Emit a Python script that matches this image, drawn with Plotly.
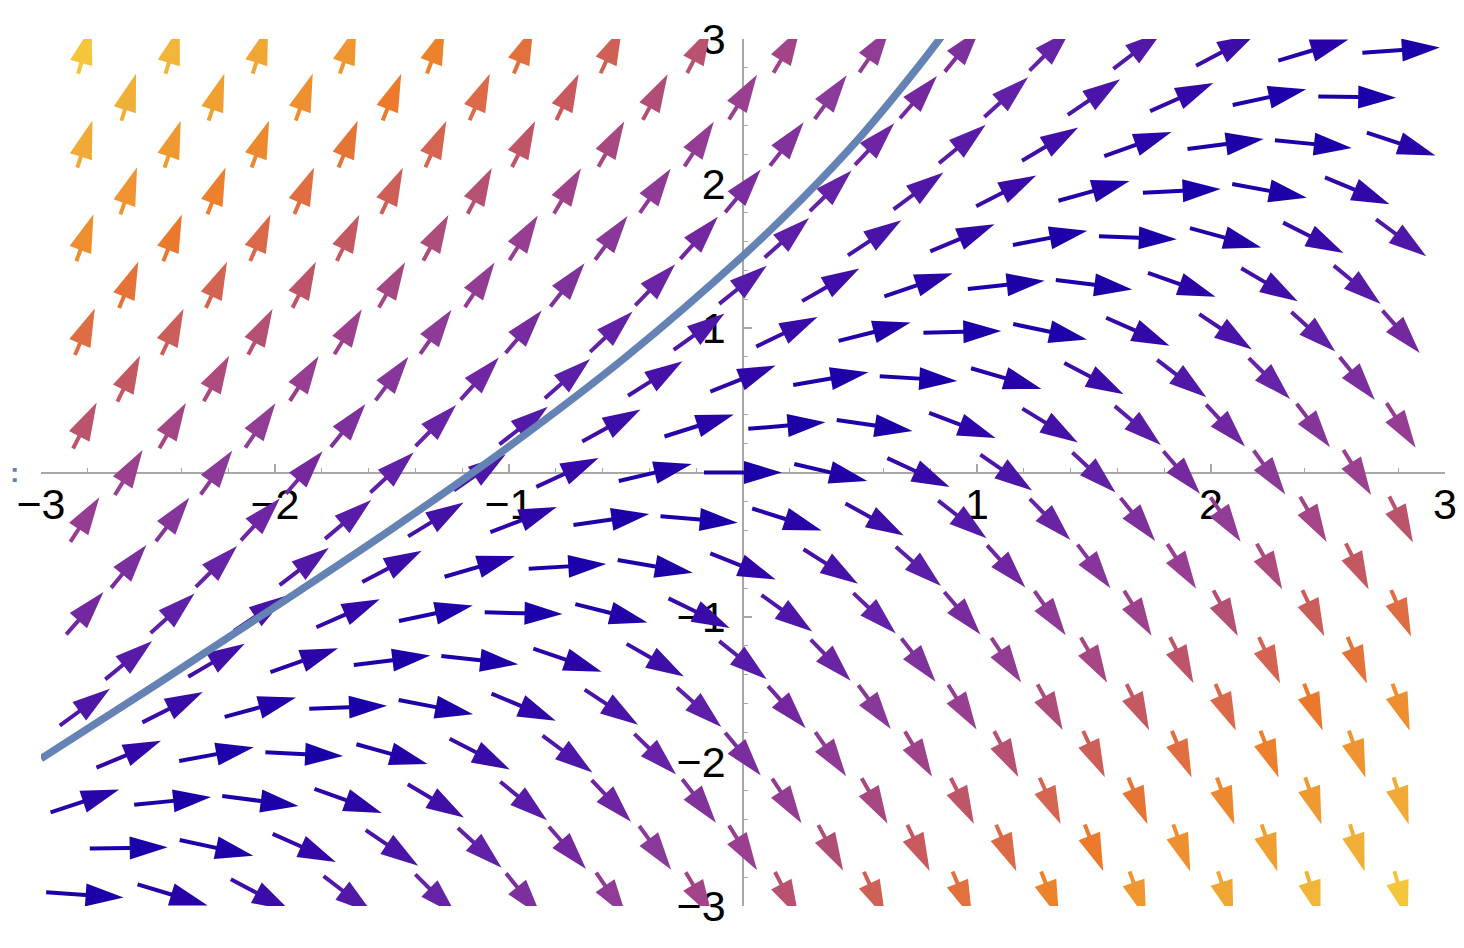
import numpy as np
import plotly.graph_objects as go

# slope field dy/dx = y - x, on the staggered grid used by the original plot
row_y = [-2.923, -2.598, -2.273, -1.949, -1.624, -1.299, -0.974, -0.650, -0.325, 0.0,
         0.325, 0.650, 0.974, 1.299, 1.624, 1.949, 2.273, 2.598, 2.923]
even_x = [-2.625, -2.25, -1.875, -1.5, -1.125, -0.75, -0.375, 0.0,
          0.375, 0.75, 1.125, 1.5, 1.875, 2.25, 2.625]
odd_x = [-2.8125, -2.4375, -2.0625, -1.6875, -1.3125, -0.9375, -0.5625, -0.1875,
         0.1875, 0.5625, 0.9375, 1.3125, 1.6875, 2.0625, 2.4375, 2.8125]

# solution curve
curve_x = [-3.0, -2.5, -2.0, -1.5, -1.0, -0.5, 0.0, 0.25, 0.5, 0.75, 0.9]
curve_y = [-1.98, -1.46, -0.93, -0.39, 0.18, 0.80, 1.50, 1.89, 2.32, 2.81, 3.13]

# arrow colour by vector length |(1, y-x)|
color_mag = [1.00, 1.06, 1.23, 1.49, 1.78, 2.10, 2.44, 2.79, 3.13, 3.50, 3.85, 4.22, 4.58, 4.95, 5.31, 5.83, 6.10]
color_hex = ['#1a00a8', '#2000a8', '#3408a8', '#4a14a8', '#6020a8', '#7428a0', '#8a3a98', '#9a3e90',
             '#b04e78', '#c85a5e', '#dc6a48', '#ec7a2a', '#ee9030', '#f0a030', '#f0b038', '#f5c53b', '#f7cc3d']

tick_vals = [-3, -2, -1, 1, 2, 3]
tick_text = ['\u22123', '\u22122', '\u22121', '1', '2', '3']

# the page body has an 8px margin, so the figure is a bit smaller than the window
W, H = 1456, 940
ML, MR, MT, MB = 33, 19, 31, 42
PX = (W - ML - MR) / 6.0   # pixels per x unit
PY = (H - MT - MB) / 6.0   # pixels per y unit

ARROW_LEN = 0.333   # data units
HEAD_LEN = 38       # pixels
HEAD_W = 23
SHAFT_W = 4.0


def slope(x, y):
    return y - x


def hex_rgb(h):
    return np.array([int(h[i:i + 2], 16) for i in (1, 3, 5)], dtype=float)


rgb_anchor = np.array([hex_rgb(c) for c in color_hex])


def color_for(m):
    r = np.interp(m, color_mag, rgb_anchor[:, 0])
    g = np.interp(m, color_mag, rgb_anchor[:, 1])
    b = np.interp(m, color_mag, rgb_anchor[:, 2])
    return 'rgb(%d,%d,%d)' % (round(r), round(g), round(b))


def arrow_polygon(xc, yc, s):
    n = np.hypot(1.0, s)
    vx, vy = ARROW_LEN / n, ARROW_LEN * s / n
    tail = np.array([(xc - vx / 2) * PX, (yc - vy / 2) * PY])
    tip = np.array([(xc + vx / 2) * PX, (yc + vy / 2) * PY])
    seg = tip - tail
    length = np.hypot(*seg)
    u = seg / length
    nrm = np.array([-u[1], u[0]])
    hl = min(HEAD_LEN, 0.8 * length)
    base = tip - u * hl
    pts = [tail + nrm * SHAFT_W / 2, base + nrm * SHAFT_W / 2, base + nrm * HEAD_W / 2, tip,
           base - nrm * HEAD_W / 2, base - nrm * SHAFT_W / 2, tail - nrm * SHAFT_W / 2,
           tail + nrm * SHAFT_W / 2]
    return [p[0] / PX for p in pts], [p[1] / PY for p in pts]


fig = go.Figure()

for i, yr in enumerate(row_y):
    xs_row = odd_x if i % 2 == 0 else even_x
    for xr in xs_row:
        s = slope(xr, yr)
        px_, py_ = arrow_polygon(xr, yr, s)
        c = color_for(np.hypot(1.0, s))
        fig.add_trace(go.Scatter(x=px_, y=py_, mode='lines', fill='toself', fillcolor=c,
                                 line=dict(width=0, color=c), hoverinfo='skip', showlegend=False))

fig.add_trace(go.Scatter(x=curve_x, y=curve_y, mode='lines', line=dict(color='#6482b4', width=7.5, shape='spline'),
                         hoverinfo='skip', showlegend=False))

axis_col = '#a8a8a8'
font = dict(family='Liberation Sans, Arial, sans-serif', size=43, color='black')

fig.update_layout(
    width=W, height=H,
    margin=dict(l=ML, r=MR, t=MT, b=MB, autoexpand=False),
    plot_bgcolor='white', paper_bgcolor='white',
    showlegend=False,
    xaxis=dict(range=[-3, 3], anchor='free', position=0.5, showgrid=False, zeroline=False,
               automargin=False,
               showline=True, linecolor=axis_col, linewidth=1.5, layer='below traces',
               ticks='inside', ticklen=8, tickwidth=1.5, tickcolor=axis_col,
               tickmode='array', tickvals=tick_vals, ticktext=tick_text, tickfont=font,
               ticklabelstandoff=-6,
               minor=dict(ticks='inside', ticklen=4, tickwidth=1.2, tickcolor=axis_col,
                          tickmode='linear', tick0=0, dtick=0.2)),
    yaxis=dict(range=[-3, 3], anchor='free', position=0.5, showgrid=False, zeroline=False,
               automargin=False,
               showline=True, linecolor=axis_col, linewidth=1.5, layer='below traces',
               ticks='inside', ticklen=8, tickwidth=1.5, tickcolor=axis_col,
               tickmode='array', tickvals=tick_vals, ticktext=tick_text, tickfont=font,
               ticklabelstandoff=8,
               minor=dict(ticks='inside', ticklen=4, tickwidth=1.2, tickcolor=axis_col,
                          tickmode='linear', tick0=0, dtick=0.2)),
    annotations=[dict(x=-33 / (W - ML - MR), xref='paper', y=0, yref='y', text='<b>:</b>', showarrow=False,
                      font=dict(size=28, color='#6482b4', family='Liberation Sans'), xanchor='left')],
)

fig.write_html("out.html")
